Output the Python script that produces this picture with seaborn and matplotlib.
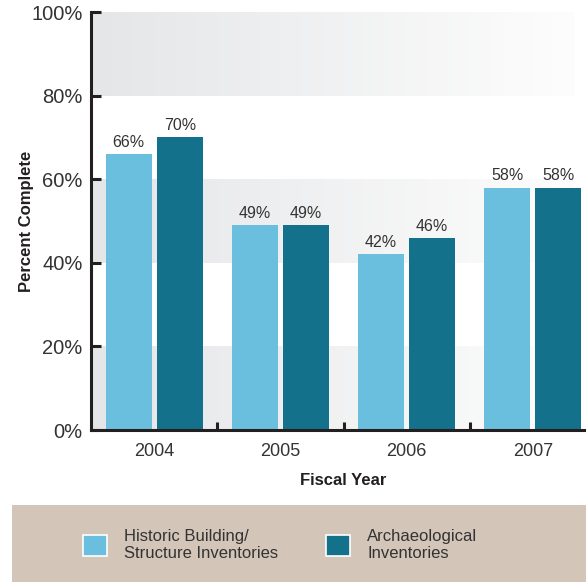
import numpy as np
import pandas as pd
import matplotlib
matplotlib.use('Agg')
import matplotlib.pyplot as plt
import seaborn as sns
from matplotlib.patches import Patch, Rectangle
from matplotlib.colors import LinearSegmentedColormap
from matplotlib.ticker import FixedLocator

# chart data
years = ['2004', '2005', '2006', '2007']
series = ['Historic Building/\nStructure Inventories', 'Archaeological\nInventories']
historic = [66, 49, 42, 58]
archaeo = [70, 49, 46, 58]
y_ticks = [0, 20, 40, 60, 80, 100]
y_tick_labels = ['0%', '20%', '40%', '60%', '80%', '100%']

LIGHT = '#6abfde'
DARK = '#14718c'
INK = '#231f20'
TXT = '#333333'

sns.set_theme(style='white')
plt.rcParams['font.family'] = ['Liberation Sans Narrow', 'Liberation Sans', 'DejaVu Sans']

df = pd.DataFrame({
    'year': years * 2,
    'pct': historic + archaeo,
    'series': [series[0]] * 4 + [series[1]] * 4,
})

fig = plt.figure(figsize=(5.86, 5.82), dpi=100)
W, H = 586, 582
ax = fig.add_axes([91 / W, (H - 430) / H, 505 / W, 418 / H])

# shaded gradient bands
cmap = LinearSegmentedColormap.from_list('band', ['#e5e6e8', '#fdfdfd'])
grad = np.linspace(0, 1, 256).reshape(1, -1)
for lo in (0, 40, 80):
    ax.imshow(grad, cmap=cmap, extent=[-0.5, 3.33, lo, lo + 20],
              aspect='auto', zorder=0, interpolation='bilinear')

sns.barplot(data=df, x='year', y='pct', hue='series',
            palette=[LIGHT, DARK], width=0.81, gap=0.1,
            legend=False, ax=ax, zorder=2, saturation=1, linewidth=0)

for cont in ax.containers:
    ax.bar_label(cont, fmt='%d%%', padding=3, fontsize=11.5, color=TXT)

ax.set_xlim(-0.5, 3.5)
ax.set_ylim(0, 100)
ax.set_yticks(y_ticks)
ax.set_yticklabels(y_tick_labels, fontsize=14.5, color=TXT)
ax.tick_params(axis='y', direction='in', length=7, width=2.2, color=INK, pad=6, left=True)
ax.tick_params(axis='x', which='major', length=0, pad=9, labelsize=13, labelcolor=TXT)
ax.xaxis.set_minor_locator(FixedLocator([0.5, 1.5, 2.5]))
ax.tick_params(axis='x', which='minor', direction='in', length=6, width=2.2, color=INK, bottom=True)

for s in ('top', 'right'):
    ax.spines[s].set_visible(False)
for s in ('left', 'bottom'):
    ax.spines[s].set_linewidth(2.2)
    ax.spines[s].set_color(INK)
    ax.spines[s].set_zorder(5)

ax.set_xlabel('Fiscal Year', fontsize=12, fontweight='bold', color=INK, labelpad=10)
ax.set_ylabel('Percent Complete', fontsize=12, fontweight='bold', color=INK)
ax.yaxis.set_label_coords(-0.112, 0.5)

# legend strip
fig.patches.append(Rectangle((12 / W, 0), (W - 12) / W, 77 / H, transform=fig.transFigure,
                             facecolor='#d3c5b8', edgecolor='none', zorder=0))
handles = [Patch(facecolor=LIGHT, edgecolor='white', linewidth=1.2, label=series[0]),
           Patch(facecolor=DARK, edgecolor='white', linewidth=1.2, label=series[1])]
fig.legend(handles=handles, loc='center left', bbox_to_anchor=(68 / W, 37 / H),
           ncol=2, frameon=False, fontsize=12, labelcolor=TXT,
           handlelength=1.45, handleheight=1.6, handletextpad=1.0, columnspacing=2.9)

fig.savefig('out.png', dpi=100)
